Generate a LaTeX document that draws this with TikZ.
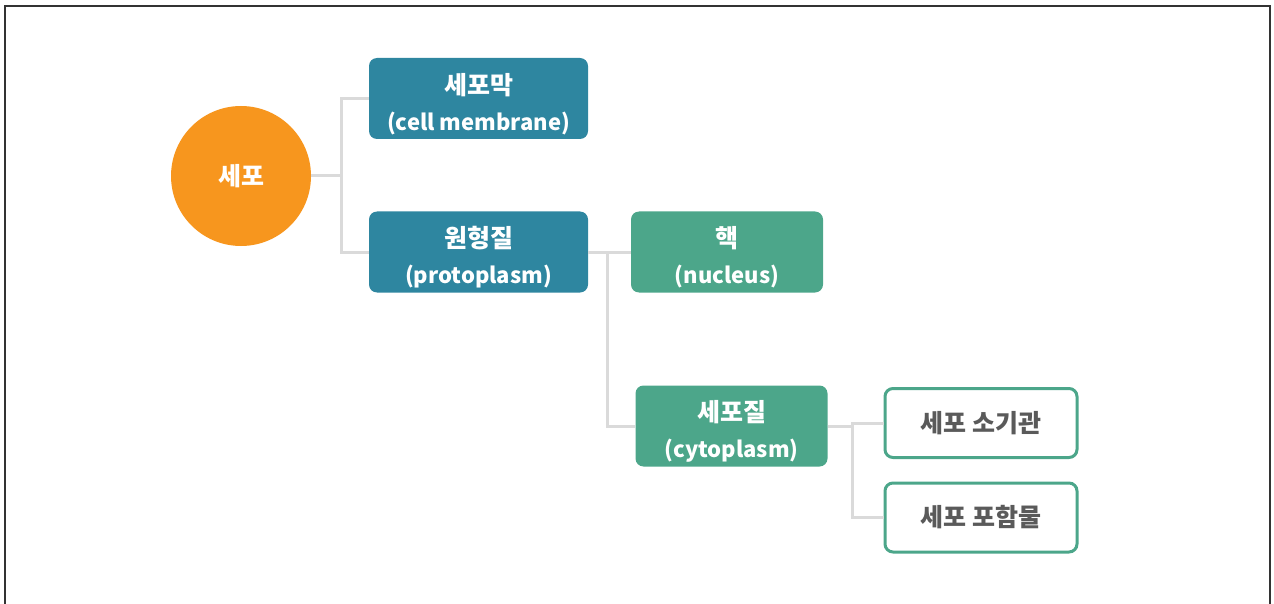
\documentclass[tikz,border=0pt]{standalone}
\usepackage{fontspec}
\setmainfont{Noto Sans CJK KR}
\usepackage{tikz}
\usetikzlibrary{positioning}
\definecolor{cellorange}{RGB}{247,150,30}
\definecolor{tealblue}{RGB}{46,134,160}
\definecolor{leafgreen}{RGB}{76,166,138}
\definecolor{linkgray}{RGB}{218,218,218}
\definecolor{textgray}{RGB}{90,90,90}
\newcommand{\kr}[1]{{\fontsize{25}{36}\selectfont #1}}
\newcommand{\krtop}[1]{\rule{0pt}{32pt}\kr{#1}}

\begin{document}
\begin{tikzpicture}[
  x=1pt, y=-1pt,
  box/.style={rounded corners=8pt, align=center, text=white, font=\bfseries\fontsize{22}{36}\selectfont, inner sep=0pt},
  bluebox/.style={box, fill=tealblue, minimum width=219pt, minimum height=81pt},
  greenbox/.style={box, fill=leafgreen, minimum width=192pt, minimum height=81pt},
  leafbox/.style={box, draw=leafgreen, line width=3pt, fill=white, text=textgray, minimum width=192pt, minimum height=69pt},
  link/.style={draw=linkgray, line width=3pt}
]
\useasboundingbox (0,0) rectangle (1274,604);

% frame
\draw[line width=1.5pt, black!80] (5,604) -- (5,6) -- (1270,6) -- (1270,604);

% root
\node[circle, fill=cellorange, minimum size=140pt, text=white, font=\bfseries] (cell) at (241,176) {\kr{세포}};

% first level
\node[bluebox] (membrane) at (478.5,98.5) {\krtop{세포막}\\(cell membrane)};
\node[bluebox] (proto) at (478.5,252) {\krtop{원형질}\\(protoplasm)};

% second level
\node[greenbox] (nucleus) at (727,252) {\krtop{핵}\\(nucleus)};
\node[greenbox] (cyto) at (731.5,426) {\krtop{세포질}\\(cytoplasm)};

% third level
\node[leafbox] (organelle) at (981,423) {\kr{세포 소기관}};
\node[leafbox] (inclusion) at (981,517.5) {\kr{세포 포함물}};

% connectors
\draw[link] (cell.east) -- ++(30,0) |- (membrane.west);
\draw[link] (cell.east) -- ++(30,0) |- (proto.west);
\draw[link] (proto.east) -- (nucleus.west);
\draw[link] (proto.east) -- ++(19,0) |- (cyto.west);
\draw[link] (cyto.east) -- ++(25,0) |- (organelle.west);
\draw[link] (cyto.east) -- ++(25,0) |- (inclusion.west);

\end{tikzpicture}
\end{document}
